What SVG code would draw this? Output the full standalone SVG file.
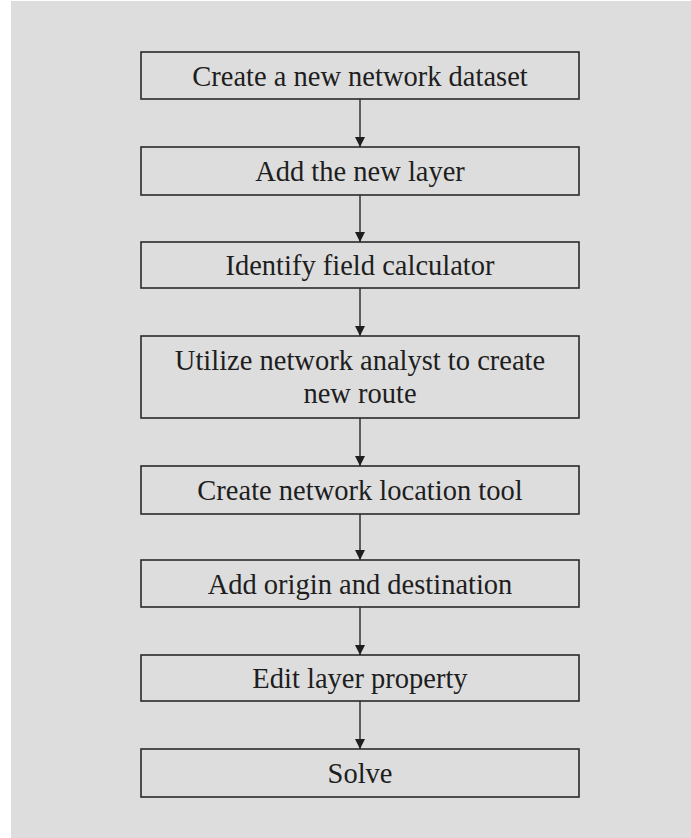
<svg xmlns="http://www.w3.org/2000/svg" width="691" height="838" viewBox="0 0 691 838">
<defs>
<style>
.box{fill:none;stroke:#2a2a2a;stroke-width:1.6}
.lbl{font-family:'Liberation Serif','Times New Roman',Times,'DejaVu Serif',serif;font-size:28.5px;fill:#1e1e1e;text-anchor:middle}
.con{stroke:#333;stroke-width:1.5;fill:none;marker-end:url(#ah)}
</style>
<marker id="ah" markerWidth="10" markerHeight="10" refX="10" refY="5" orient="auto" markerUnits="userSpaceOnUse">
<path d="M0,0 L10,5 L0,10 Z" fill="#1e1e1e"/>
</marker>
</defs>
<rect x="0" y="0" width="691" height="838" fill="#ffffff"/>
<rect x="11" y="1" width="680" height="837" fill="#dddddd"/>
<g id="connectors">
<line class="con" x1="360" y1="99" x2="360" y2="147"/>
<line class="con" x1="360" y1="195" x2="360" y2="242"/>
<line class="con" x1="360" y1="288" x2="360" y2="336"/>
<line class="con" x1="360" y1="418" x2="360" y2="466"/>
<line class="con" x1="360" y1="514" x2="360" y2="560"/>
<line class="con" x1="360" y1="607" x2="360" y2="655"/>
<line class="con" x1="360" y1="701" x2="360" y2="749"/>
</g>
<g id="n1"><rect class="box" x="141" y="52" width="438" height="47"/><text class="lbl" x="360" y="85.5">Create a new network dataset</text></g>
<g id="n2"><rect class="box" x="141" y="147" width="438" height="48"/><text class="lbl" x="360" y="181">Add the new layer</text></g>
<g id="n3"><rect class="box" x="141" y="242" width="438" height="46"/><text class="lbl" x="360" y="275">Identify field calculator</text></g>
<g id="n4"><rect class="box" x="141" y="336" width="438" height="82"/><text class="lbl" x="360" y="370">Utilize network analyst to create</text><text class="lbl" x="360" y="403">new route</text></g>
<g id="n5"><rect class="box" x="141" y="466" width="438" height="48"/><text class="lbl" x="360" y="500">Create network location tool</text></g>
<g id="n6"><rect class="box" x="141" y="560" width="438" height="47"/><text class="lbl" x="360" y="593.5">Add origin and destination</text></g>
<g id="n7"><rect class="box" x="141" y="655" width="438" height="46"/><text class="lbl" x="360" y="688">Edit layer property</text></g>
<g id="n8"><rect class="box" x="141" y="749" width="438" height="48"/><text class="lbl" x="360" y="783">Solve</text></g>
</svg>
